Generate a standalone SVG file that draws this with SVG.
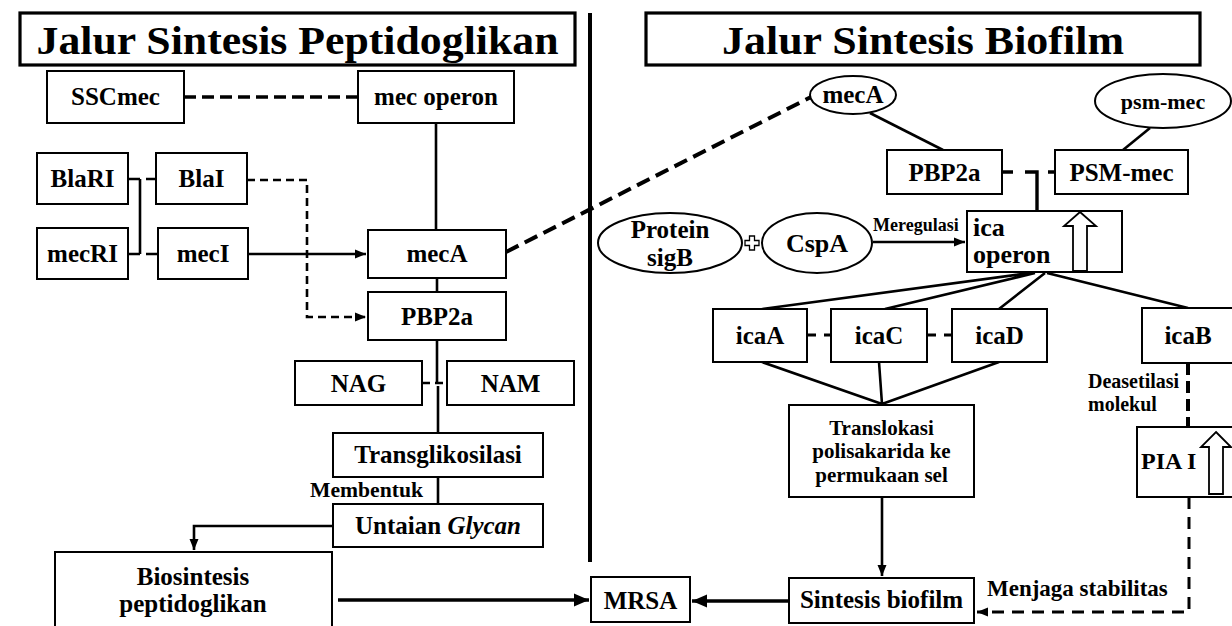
<svg xmlns="http://www.w3.org/2000/svg" width="1232" height="626" viewBox="0 0 1232 626" font-family="'Liberation Serif', 'DejaVu Serif', serif">
<style>
text{font-family:'Liberation Serif','DejaVu Serif',serif;font-weight:bold;fill:#000}
.t{font-size:41px;text-anchor:middle}
.n{font-size:25px;text-anchor:middle}
.l{font-size:20px}
.box{fill:#fff;stroke:#000;stroke-width:2}
.tbox{fill:#fff;stroke:#000;stroke-width:3.2}
.ln{fill:none;stroke:#000;stroke-width:2.6}
.dsh{fill:none;stroke:#000;stroke-width:2.6;stroke-dasharray:8 5}
.hol{fill:#fff;stroke:#000;stroke-width:1.8}
</style>
<defs>
<marker id="ah" markerUnits="userSpaceOnUse" markerWidth="12" markerHeight="12" refX="11" refY="6" orient="auto"><path d="M0,1.5 L11,6 L0,10.5 Z" fill="#000"/></marker>
<marker id="ahb" markerUnits="userSpaceOnUse" markerWidth="16" markerHeight="16" refX="15" refY="8" orient="auto"><path d="M0,1.5 L15,8 L0,14.5 Z" fill="#000"/></marker>
</defs>
<rect width="1232" height="626" fill="#fff"/>

<g id="connectors">
<line x1="590" y1="13" x2="590" y2="562" stroke="#000" stroke-width="4"/>
<path class="ln" d="M184 97 H358" style="stroke-width:3.4;stroke-dasharray:12 6"/>
<path class="ln" d="M436 123 V230"/>
<path class="ln" d="M128 179 H156" style="stroke-dasharray:12 6"/>
<path class="ln" d="M128 254 H158" style="stroke-dasharray:12 6"/>
<path class="ln" d="M140 179 V254"/>
<path class="dsh" d="M247 180 H307 V317 H366" marker-end="url(#ah)"/>
<path class="ln" d="M248 254 H366" marker-end="url(#ah)"/>
<path class="ln" d="M437 278 V292"/>
<path class="ln" d="M437 340 V383"/>
<path class="ln" d="M438 386 V433"/>
<path class="ln" d="M422 383 H447" style="stroke-dasharray:8 5"/>
<path class="ln" d="M438 477 V504"/>
<path class="ln" d="M333 526 H194 V550" marker-end="url(#ah)"/>
<path class="ln" d="M338 600 H589" style="stroke-width:3.6" marker-end="url(#ahb)"/>
<path class="ln" d="M506 252 L811 97" style="stroke-width:4;stroke-dasharray:14 7"/>
<path class="ln" d="M870 113 L943 150"/>
<path class="ln" d="M1150 128 L1123 150"/>
<path class="ln" d="M1002 172 H1013 M1025 172 H1037 V211 M1048 172 H1055" style="stroke-width:3.4"/>
<path class="ln" d="M873 242 H965" marker-end="url(#ah)"/>
<path class="ln" d="M1030 273 L762 309 M1035 273 L885 309 M1045 273 L999 309 M1047 273 L1188 308"/>
<path class="ln" d="M807 335 H831 M927 335 H952" style="stroke-width:3;stroke-dasharray:9 8"/>
<path class="ln" d="M762 362 L882 404 M879 362 L882 404 M999 362 L882 404"/>
<path class="ln" d="M882 497 V576" marker-end="url(#ah)"/>
<path class="ln" d="M789 601 H692" style="stroke-width:3.6" marker-end="url(#ahb)"/>
<path class="ln" d="M1188 363 V427" style="stroke-width:4;stroke-dasharray:12 6"/>
<path class="ln" d="M1189 497 V612 H977" style="stroke-width:3;stroke-dasharray:12 8" marker-end="url(#ah)"/>
</g>

<g id="title-left"><rect class="tbox" x="20" y="13" width="555" height="52"/><text class="t" x="297.5" y="54" textLength="522" lengthAdjust="spacingAndGlyphs">Jalur Sintesis Peptidoglikan</text></g>
<g id="title-right"><rect class="tbox" x="646" y="13" width="554" height="52"/><text class="t" x="923" y="54" textLength="402" lengthAdjust="spacingAndGlyphs">Jalur Sintesis Biofilm</text></g>

<g id="sscmec"><rect class="box" x="47" y="71" width="137" height="52"/><text class="n" x="115.5" y="105">SSCmec</text></g>
<g id="mec-operon"><rect class="box" x="358" y="71" width="156" height="52"/><text class="n" x="436" y="105">mec operon</text></g>
<g id="blari"><rect class="box" x="37" y="153" width="91" height="51"/><text class="n" x="82.5" y="187">BlaRI</text></g>
<g id="blai"><rect class="box" x="156" y="153" width="91" height="51"/><text class="n" x="201.5" y="187">BlaI</text></g>
<g id="mecri"><rect class="box" x="37" y="228" width="91" height="51"/><text class="n" x="82.5" y="262">mecRI</text></g>
<g id="meci"><rect class="box" x="158" y="228" width="90" height="51"/><text class="n" x="203" y="262">mecI</text></g>
<g id="meca-left"><rect class="box" x="368" y="230" width="138" height="48"/><text class="n" x="437" y="262">mecA</text></g>
<g id="pbp2a-left"><rect class="box" x="368" y="292" width="138" height="48"/><text class="n" x="437" y="325">PBP2a</text></g>
<g id="nag"><rect class="box" x="295" y="361" width="127" height="44"/><text class="n" x="358.5" y="392">NAG</text></g>
<g id="nam"><rect class="box" x="447" y="361" width="127" height="44"/><text class="n" x="510.5" y="392">NAM</text></g>
<g id="transglikosilasi"><rect class="box" x="333" y="433" width="210" height="44"/><text class="n" x="438" y="463">Transglikosilasi</text></g>
<g id="label-membentuk"><text class="l" x="310" y="497" textLength="113" lengthAdjust="spacingAndGlyphs">Membentuk</text></g>
<g id="untaian"><rect class="box" x="333" y="504" width="210" height="43"/><text class="n" x="438" y="534">Untaian <tspan font-style="italic">Glycan</tspan></text></g>
<g id="biosintesis"><rect class="box" x="55" y="552" width="277" height="90"/><text class="n" x="193" y="585">Biosintesis</text><text class="n" x="193" y="612">peptidoglikan</text></g>
<g id="mrsa"><rect class="box" x="591" y="577" width="99" height="45"/><text class="n" x="640.5" y="609">MRSA</text></g>

<g id="meca-ellipse"><ellipse class="box" cx="853" cy="95" rx="43" ry="19"/><text class="n" x="853" y="103">mecA</text></g>
<g id="psm-mec-ellipse"><ellipse class="box" cx="1163" cy="101" rx="68" ry="27"/><text class="n" x="1163" y="109" style="font-size:22px">psm-mec</text></g>
<g id="pbp2a-right"><rect class="box" x="887" y="150" width="115" height="44"/><text class="n" x="944.5" y="181">PBP2a</text></g>
<g id="psm-mec-box"><rect class="box" x="1055" y="150" width="133" height="44"/><text class="n" x="1121.5" y="181">PSM-mec</text></g>
<g id="protein-sigb"><ellipse class="box" cx="670" cy="243" rx="72" ry="30"/><text class="n" x="670" y="238">Protein</text><text class="n" x="670" y="266">sigB</text></g>
<g id="plus"><path class="hol" style="stroke-width:1.3" d="M749.5 236 h5 v4.5 h4.5 v5 h-4.5 v4.5 h-5 v-4.5 h-4.5 v-5 h4.5 z"/></g>
<g id="cspa"><ellipse class="box" cx="817" cy="243" rx="55" ry="30"/><text class="n" x="817" y="252" style="font-size:26px">CspA</text></g>
<g id="label-meregulasi"><text class="l" x="873" y="231" style="font-size:18px">Meregulasi</text></g>
<g id="ica-operon"><rect class="box" x="967" y="211" width="155" height="61"/><text x="973" y="236" style="font-size:26px">ica</text><text x="973" y="263" style="font-size:26px">operon</text><path class="hol" d="M1080 212 L1096 226 L1087 226 L1087 271 L1073 271 L1073 226 L1064 226 Z"/></g>
<g id="icaa"><rect class="box" x="713" y="309" width="94" height="53"/><text class="n" x="760" y="344">icaA</text></g>
<g id="icac"><rect class="box" x="831" y="309" width="96" height="53"/><text class="n" x="879" y="344">icaC</text></g>
<g id="icad"><rect class="box" x="952" y="309" width="95" height="53"/><text class="n" x="999.5" y="344">icaD</text></g>
<g id="icab"><rect class="box" x="1142" y="308" width="94" height="55"/><text class="n" x="1188" y="344">icaB</text></g>
<g id="label-deasetilasi"><text class="l" x="1088" y="388">Deasetilasi</text><text class="l" x="1088" y="411">molekul</text></g>
<g id="pia"><rect class="box" x="1137" y="427" width="99" height="70"/><text x="1141" y="469" style="font-size:24px">PIA I</text><path class="hol" d="M1216 432 L1231 447 L1223 447 L1223 494 L1209 494 L1209 447 L1201 447 Z"/></g>
<g id="translokasi"><rect class="box" x="789" y="405" width="185" height="92"/><text class="n" x="881.5" y="435" style="font-size:21px">Translokasi</text><text class="n" x="881.5" y="458" style="font-size:21px">polisakarida ke</text><text class="n" x="881.5" y="482" style="font-size:21px">permukaan sel</text></g>
<g id="sintesis-biofilm"><rect class="box" x="789" y="578" width="185" height="45"/><text class="n" x="881.5" y="608">Sintesis biofilm</text></g>
<g id="label-menjaga"><text class="l" x="987" y="596" style="font-size:23px">Menjaga stabilitas</text></g>
</svg>
